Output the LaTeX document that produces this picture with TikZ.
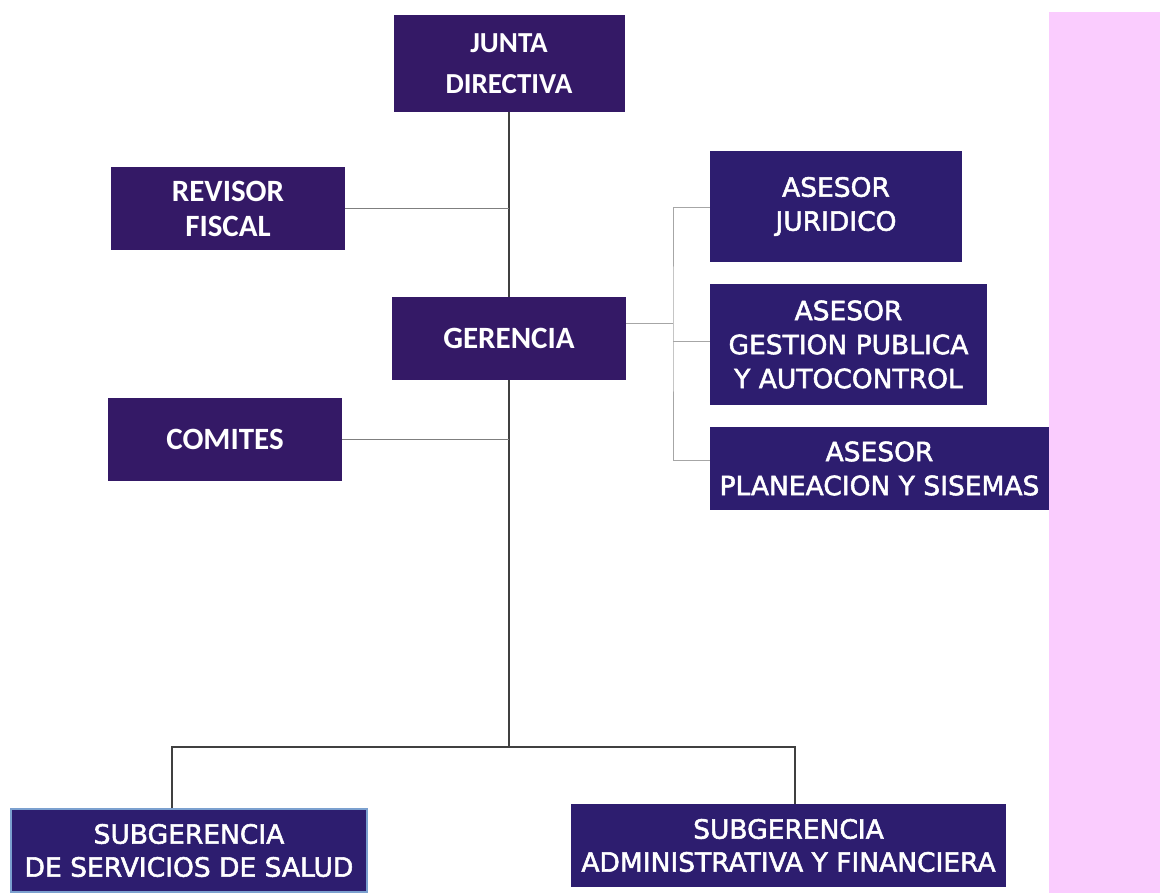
\documentclass[tikz,border=0pt]{standalone}
\usepackage{fontspec}
\newfontfamily\carlito{Carlito}
\newfontfamily\dvs[FakeBold=2]{DejaVu Sans}
\definecolor{topbox}{HTML}{341966}
\definecolor{lowbox}{HTML}{2D1D6F}
\definecolor{pinkbar}{HTML}{FACCFE}
\definecolor{saludedge}{HTML}{7BA0CF}
\definecolor{darkline}{HTML}{404040}
\definecolor{midline}{HTML}{7F7F7F}
\definecolor{lightline}{HTML}{A6A6A6}
\tikzset{
  box/.style={inner sep=0pt, text=white, align=center, anchor=center},
  topstyle/.style={box, fill=topbox, font=\carlito\bfseries\fontsize{31}{35}\selectfont},
  lowstyle/.style={box, fill=lowbox, font=\dvs\fontsize{26.5}{34}\selectfont},
  conn/.style={draw=darkline, line width=1.1pt},
  sideconn/.style={draw=midline, line width=1.3pt},
  asconn/.style={draw=lightline, line width=1pt}
}
\begin{document}
\begin{tikzpicture}[x=1pt,y=-1pt]
\useasboundingbox (0,0) rectangle (1160,893);
\fill[pinkbar] (1049,12) rectangle (1160,893);

\node[topstyle, minimum width=231pt, minimum height=97pt, font=\carlito\bfseries\fontsize{29}{41}\selectfont] (junta) at (509,63.5) {JUNTA\\DIRECTIVA};
\node[topstyle, minimum width=234pt, minimum height=83pt] (revisor) at (228,208.5) {REVISOR\\FISCAL};
\node[topstyle, minimum width=234pt, minimum height=83pt] (gerencia) at (509,338.5) {GERENCIA};
\node[topstyle, minimum width=234pt, minimum height=83pt] (comites) at (225,439.5) {COMITES};

\node[lowstyle, minimum width=252pt, minimum height=111pt] (juridico) at (836,206.5) {ASESOR\\JURIDICO};
\node[lowstyle, minimum width=277pt, minimum height=121pt] (gestion) at (848.5,344.5) {ASESOR\\GESTION PUBLICA\\Y AUTOCONTROL};
\node[lowstyle, minimum width=339pt, minimum height=83pt] (planeacion) at (879.5,468.5) {ASESOR\\PLANEACION Y SISEMAS};

\node[lowstyle, minimum width=356pt, minimum height=83pt, draw=saludedge, line width=2pt, font=\dvs\fontsize{26.5}{33}\selectfont] (salud) at (189,850.5) {SUBGERENCIA\\DE SERVICIOS DE SALUD};
\node[lowstyle, minimum width=435pt, minimum height=83pt, font=\dvs\fontsize{26.5}{33}\selectfont] (admin) at (788.5,845.5) {SUBGERENCIA\\ADMINISTRATIVA Y FINANCIERA};

% main spine
\coordinate (bus) at (509,747);
\coordinate (br) at (673,324);
\draw[conn] (junta.south) -- (gerencia.north);
\draw[conn] (gerencia.south) -- (bus);
\draw[sideconn] (revisor.east) -- (revisor.east -| junta.south);
\draw[sideconn] (comites.east) -- (comites.east -| gerencia.south);
\draw[conn] ([xshift=-17pt]salud.north) |- (bus) -| ([xshift=6.5pt]admin.north);

% asesores
\draw[asconn] ([yshift=14.5pt]gerencia.east) -- (br);
\draw[asconn] ([yshift=-1.5pt]juridico.west) -| (br) |- ([yshift=8.5pt]planeacion.west);
\draw[asconn] ([yshift=2.5pt]gestion.west) -- ([yshift=2.5pt]gestion.west -| br);
\end{tikzpicture}
\end{document}
